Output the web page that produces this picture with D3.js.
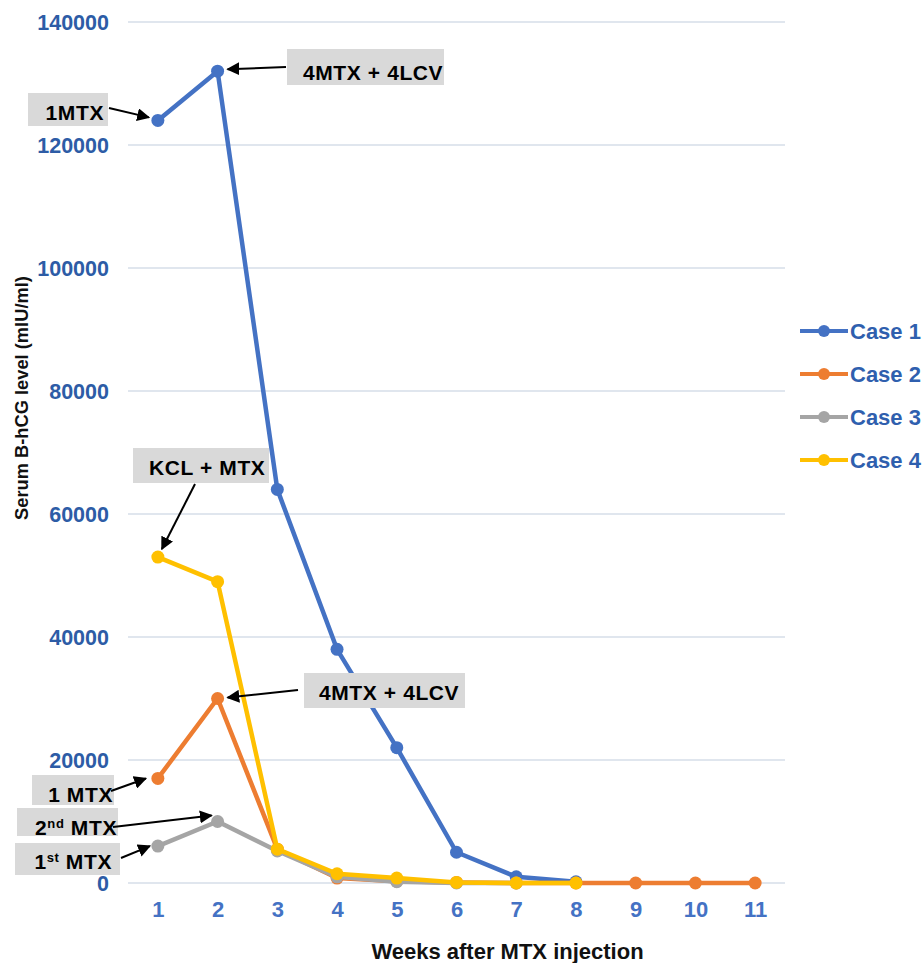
<!DOCTYPE html>
<html>
<head>
<meta charset="utf-8">
<script src="https://cdn.jsdelivr.net/npm/d3@7"></script>
<style>
  html, body { margin: 0; padding: 0; background: #fff; }
  svg { display: block; font-family: "Liberation Sans", Arial, sans-serif; }
</style>
</head>
<body>
<svg id="chart" width="924" height="963"></svg>
<script>
// ---- data ----
const weeks = [1, 2, 3, 4, 5, 6, 7, 8, 9, 10, 11];
const yTicks = [0, 20000, 40000, 60000, 80000, 100000, 120000, 140000];
const seriesNames = ["Case 1", "Case 2", "Case 3", "Case 4"];
const case1 = [124000, 132000, 64000, 38000, 22000, 5000, 1000, 200];
const case2 = [17000, 30000, 5500, 800, 300, 100, 0, 0, 0, 0, 0];
const case3 = [6000, 10000, 5200, 1000, 200, 0, 0];
const case4 = [53000, 49000, 5500, 1500, 800, 100, 0, 0];
const seriesColors = ["#4472C4", "#ED7D31", "#A5A5A5", "#FFC000"];
const xTitle = "Weeks after MTX injection";
const yTitle = "Serum B-hCG level (mIU/ml)";

// annotation texts and the point each one points at (series index, week)
const annotations = [
  { parts: [["1MTX"]], series: 0, week: 1 },
  { parts: [["4MTX + 4LCV"]], series: 0, week: 2 },
  { parts: [["KCL + MTX"]], series: 3, week: 1 },
  { parts: [["4MTX + 4LCV"]], series: 1, week: 2 },
  { parts: [["1 MTX"]], series: 1, week: 1 },
  { parts: [["2"], ["nd", true], [" MTX"]], series: 2, week: 2 },
  { parts: [["1"], ["st", true], [" MTX"]], series: 2, week: 1 }
];

// ---- layout (not data) ----
const annLayout = [
  { box: [28, 93, 80, 33], tx: 104, ty: 120, anchor: "end", fs: 21, from: [109, 108], off: [-9, -3] },
  { box: [287, 49, 157, 36], tx: 303, ty: 80, anchor: "start", fs: 21, from: [286, 67], off: [10, -2] },
  { box: [133, 448, 136, 35], tx: 149, ty: 475, anchor: "start", fs: 21, from: [195, 484], off: [4, -8] },
  { box: [304, 673, 161, 35], tx: 319, ty: 700, anchor: "start", fs: 21, from: [298, 690], off: [10, -1] },
  { box: [32, 775, 82, 30], tx: 113, ty: 802, anchor: "end", fs: 21, from: [111, 791], off: [-12, 0] },
  { box: [17, 808, 101, 28], tx: 117, ty: 835, anchor: "end", fs: 21, from: [113, 827], off: [-6, -6] },
  { box: [15, 843, 105, 32], tx: 112, ty: 869, anchor: "end", fs: 21, from: [121, 858], off: [-8, 0] }
];

const svg = d3.select("#chart");
const plot = { left: 128, right: 785, top: 22, bottom: 883 };

const x = d3.scalePoint().domain(weeks).range([plot.left, plot.right]).padding(0.5);
const y = d3.scaleLinear().domain([0, 140000]).range([plot.bottom, plot.top]);

// gridlines
svg.append("g").selectAll("line").data(yTicks).join("line")
  .attr("x1", plot.left).attr("x2", plot.right)
  .attr("y1", d => y(d)).attr("y2", d => y(d))
  .attr("stroke", "#D6DEE8").attr("stroke-width", 1.3);

// y axis
const yAxis = svg.append("g").attr("transform", `translate(${plot.left - 19},0)`)
  .call(d3.axisLeft(y).tickValues(yTicks).tickSize(0).tickPadding(0).tickFormat(d3.format("d")));
yAxis.select(".domain").remove();
yAxis.selectAll("text")
  .attr("font-family", "Liberation Sans, Arial, sans-serif")
  .attr("font-size", 21.5).attr("font-weight", "bold").attr("fill", "#2D5CA6").attr("dy", "0.35em");

// x axis
const xAxis = svg.append("g").attr("transform", `translate(0,${plot.bottom})`)
  .call(d3.axisBottom(x).tickSize(0).tickPadding(18));
xAxis.select(".domain").remove();
xAxis.selectAll("text")
  .attr("font-family", "Liberation Sans, Arial, sans-serif")
  .attr("font-size", 22).attr("font-weight", "bold").attr("fill", "#4472C4");

// axis titles
svg.append("text").attr("x", (plot.left + plot.right) / 2 + 51).attr("y", 959)
  .attr("text-anchor", "middle").attr("font-size", 22).attr("font-weight", "bold").attr("fill", "#111")
  .text(xTitle);
svg.append("text").attr("transform", "translate(28,398) rotate(-90)")
  .attr("text-anchor", "middle").attr("font-size", 18.3).attr("font-weight", "bold").attr("fill", "#111")
  .text(yTitle);

// series
const allSeries = [case1, case2, case3, case4];
const line = d3.line().x((d, i) => x(weeks[i])).y(d => y(d));
allSeries.forEach((vals, si) => {
  const g = svg.append("g");
  g.append("path").datum(vals).attr("d", line)
    .attr("fill", "none").attr("stroke", seriesColors[si]).attr("stroke-width", 4.5)
    .attr("stroke-linejoin", "round");
  g.selectAll("circle").data(vals).join("circle")
    .attr("cx", (d, i) => x(weeks[i])).attr("cy", d => y(d)).attr("r", 6.5)
    .attr("fill", seriesColors[si]);
});

// legend
const legend = svg.append("g");
seriesNames.forEach((name, i) => {
  const ly = 331 + i * 43;
  legend.append("line").attr("x1", 800).attr("x2", 848).attr("y1", ly).attr("y2", ly)
    .attr("stroke", seriesColors[i]).attr("stroke-width", 4);
  legend.append("circle").attr("cx", 824).attr("cy", ly).attr("r", 6).attr("fill", seriesColors[i]);
  legend.append("text").attr("x", 850).attr("y", ly + 8).attr("font-size", 22).attr("font-weight", "bold")
    .attr("fill", "#2F5FAE").text(name);
});

// annotations
const defs = svg.append("defs");
defs.append("marker").attr("id", "arrow").attr("viewBox", "0 0 10 10")
  .attr("refX", 9).attr("refY", 5).attr("markerWidth", 6.5).attr("markerHeight", 6.5)
  .attr("markerUnits", "strokeWidth").attr("orient", "auto")
  .append("path").attr("d", "M0,0 L10,5 L0,10 z").attr("fill", "#000");

const annG = svg.append("g");
annotations.forEach((a, i) => {
  const L = annLayout[i];
  annG.append("rect").attr("x", L.box[0]).attr("y", L.box[1]).attr("width", L.box[2]).attr("height", L.box[3])
    .attr("fill", "#D9D9D9");
  const t = annG.append("text").attr("x", L.tx).attr("y", L.ty).attr("text-anchor", L.anchor)
    .attr("font-size", L.fs).attr("font-weight", "bold").attr("fill", "#000").attr("letter-spacing", 0.6);
  a.parts.forEach(p => {
    const ts = t.append("tspan").text(p[0]);
    if (p[1]) ts.attr("font-size", L.fs * 0.62).attr("baseline-shift", "55%");
  });
  const vals = allSeries[a.series];
  const tx = x(a.week) + L.off[0];
  const ty = y(vals[weeks.indexOf(a.week)]) + L.off[1];
  annG.append("line").attr("x1", L.from[0]).attr("y1", L.from[1]).attr("x2", tx).attr("y2", ty)
    .attr("stroke", "#000").attr("stroke-width", 2).attr("marker-end", "url(#arrow)");
});
</script>
</body>
</html>
